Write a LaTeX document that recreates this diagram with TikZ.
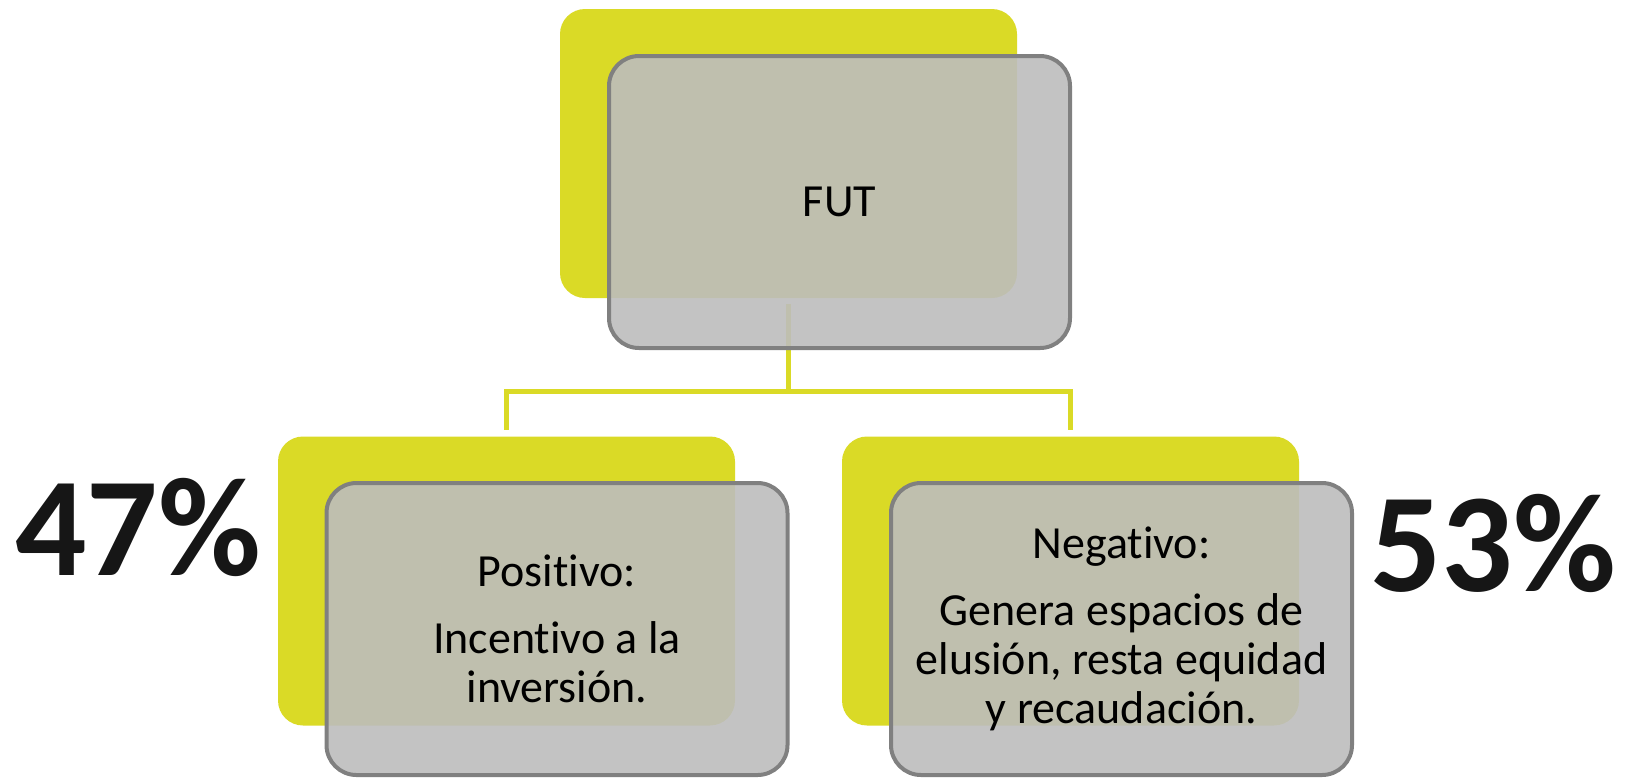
\documentclass[tikz,border=0pt]{standalone}
\usepackage{fontspec}
\setmainfont[Ligatures={NoCommon,NoContextual}]{Carlito}
\usetikzlibrary{positioning}

\definecolor{futyellow}{RGB}{218,218,38}
\definecolor{futgray}{RGB}{189,189,189}
\definecolor{futline}{RGB}{128,128,128}
\definecolor{futink}{RGB}{22,22,22}

\begin{document}
\begin{tikzpicture}[x = 0.5pt, y = -0.5pt, % one unit is one pixel of the reference
                node distance = 0pt,
                semithick % line style
            ]

            \tikzstyle{back}=[fill = futyellow, rounded corners = 12.5pt,
            minimum width = 228.5pt, minimum height = 144.5pt, inner sep = 0pt]
            \tikzstyle{front}=[draw = futline, line width = 2pt, fill = futgray,
            fill opacity = 0.9, text opacity = 1, rounded corners = 15pt,
            minimum width = 230.5pt, minimum height = 146pt, inner sep = 0pt,
            align = center, font = \fontsize{23}{24.5}\selectfont]
            \tikzstyle{link}=[draw = futyellow, line width = 2.5pt]
            \tikzstyle{share}=[text = futink, inner sep = 0pt,
            font = \fontsize{70.5}{70.5}\selectfont\bfseries]

            \useasboundingbox (0,0) rectangle (1633,778);

            % yellow cards behind
            \node[back] (futb) at (788.5,153.5) {};
            \node[back] (posb) at (506.5,581) {};
            \node[back] (negb) at (1070.5,581) {};

            % connectors
            \coordinate (split) at (788.5,391);
            \draw[link, shorten <= 2.5pt] (futb) -- (split);
            \draw[link, shorten >= 3pt] (split) -| (posb);
            \draw[link, shorten >= 3pt] (split) -| (negb);

            % grey cards in front
            \node[front] (fut) at (839.5,202) {FUT};
            \node[front] (pos) at (557,629) {Positivo:\\[9pt] Incentivo a la\\
                inversión.};
            \node[front] (neg) at (1121.5,629) {Negativo:\\[9pt] Genera
                espacios de\\ elusión, resta equidad\\ y recaudación.};

            \node[share] (posp) at (138,527.5) {47\%};
            \node[share] (negp) at (1493,543) {53\%};
\end{tikzpicture}
\end{document}
